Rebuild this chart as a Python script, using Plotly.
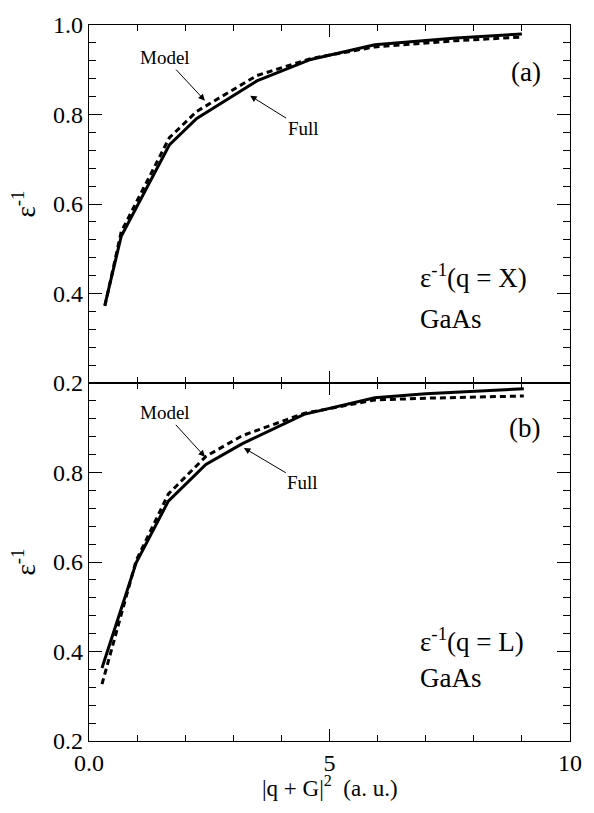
import plotly.graph_objects as go

# Panel (a): q = X
xa = [0.33, 0.67, 1.67, 2.24, 3.49, 4.61, 5.94, 7.63, 9.0]
ya_full = [0.374, 0.528, 0.732, 0.791, 0.875, 0.923, 0.956, 0.971, 0.980]
ya_model = [0.372, 0.538, 0.748, 0.807, 0.887, 0.925, 0.951, 0.965, 0.973]

# Panel (b): q = L
xb = [0.27, 0.98, 1.65, 2.43, 3.18, 4.47, 5.94, 7.0, 9.04]
yb_full = [0.363, 0.598, 0.736, 0.818, 0.864, 0.930, 0.967, 0.976, 0.987]
yb_model = [0.327, 0.603, 0.752, 0.836, 0.882, 0.932, 0.962, 0.966, 0.971]

x_tickvals = [0, 5, 10]
x_ticktext = ["0.0", "5", "10"]
ya_tickvals = [0.2, 0.4, 0.6, 0.8, 1.0]
ya_ticktext = ["0.2", "0.4", "0.6", "0.8", "1.0"]
yb_tickvals = [0.2, 0.4, 0.6, 0.8]
yb_ticktext = ["0.2", "0.4", "0.6", "0.8"]

FONT = "Liberation Serif"
fig = go.Figure()

line_full = dict(color="black", width=3)
line_model = dict(color="black", width=3, dash="6px,4px")

fig.add_trace(go.Scatter(x=xa, y=ya_model, mode="lines", line=line_model, xaxis="x", yaxis="y", showlegend=False))
fig.add_trace(go.Scatter(x=xa, y=ya_full, mode="lines", line=line_full, xaxis="x", yaxis="y", showlegend=False))
fig.add_trace(go.Scatter(x=xb, y=yb_model, mode="lines", line=line_model, xaxis="x2", yaxis="y2", showlegend=False))
fig.add_trace(go.Scatter(x=xb, y=yb_full, mode="lines", line=line_full, xaxis="x2", yaxis="y2", showlegend=False))

tfont = dict(family=FONT, size=24, color="black")

common_x = dict(range=[0, 10], showline=True, linecolor="black", linewidth=1.2, mirror="ticks",
                ticks="inside", ticklen=12, tickwidth=1.2, tickcolor="black",
                tickvals=x_tickvals, ticktext=x_ticktext, showgrid=False, zeroline=False,
                ticklabeloverflow="allow",
                minor=dict(dtick=1, tick0=0, ticks="inside", ticklen=6, tickwidth=1,
                           tickcolor="black", showgrid=False),
                tickfont=tfont)
common_y = dict(range=[0.2, 1.0], showline=True, linecolor="black", linewidth=1.2, mirror="ticks",
                ticks="inside", ticklen=13, tickwidth=1.2, tickcolor="black",
                showgrid=False, zeroline=False, ticklabeloverflow="allow",
                minor=dict(dtick=0.04, tick0=0.2, ticks="inside", ticklen=7, tickwidth=1,
                           tickcolor="black", showgrid=False),
                tickfont=tfont,
                title=dict(text="ε<sup>-1</sup>", font=dict(family=FONT, size=27, color="black"), standoff=9))

fig.update_layout(
    width=594, height=813,
    margin=dict(l=89, r=15, t=13, b=72),
    paper_bgcolor="white", plot_bgcolor="white",
    font=dict(family=FONT, color="black"),
    xaxis=dict(common_x, domain=[0, 1], anchor="y", showticklabels=False),
    yaxis=dict(common_y, domain=[0.5, 1.0], anchor="x", tickvals=ya_tickvals, ticktext=ya_ticktext),
    xaxis2=dict(common_x, domain=[0, 1], anchor="y2"),
    yaxis2=dict(common_y, domain=[0, 0.5], anchor="x2", tickvals=yb_tickvals, ticktext=yb_ticktext),
)

ann_font = dict(family=FONT, size=19, color="black")
big_font = dict(family=FONT, size=27, color="black")
arrow = dict(showarrow=True, arrowhead=2, arrowsize=1.3, arrowwidth=1, arrowcolor="black")

anns = [
    dict(x=2.41, y=0.831, xref="x", yref="y", text="Model", ax=-40, ay=-43, font=ann_font, **arrow),
    dict(x=3.35, y=0.842, xref="x", yref="y", text="Full", ax=53, ay=33, font=ann_font, **arrow),
    dict(x=2.41, y=0.835, xref="x2", yref="y2", text="Model", ax=-40, ay=-44, font=ann_font, **arrow),
    dict(x=3.22, y=0.855, xref="x2", yref="y2", text="Full", ax=59, ay=35, font=ann_font, **arrow),
    dict(x=9.08, y=0.895, xref="x", yref="y", text="(a)", showarrow=False, font=big_font),
    dict(x=9.06, y=0.90, xref="x2", yref="y2", text="(b)", showarrow=False, font=big_font),
    dict(x=6.85, y=0.44, xref="x", yref="y", text="ε<sup>-1</sup>(q = X)", xanchor="left", showarrow=False, font=big_font),
    dict(x=6.85, y=0.343, xref="x", yref="y", text="GaAs", xanchor="left", showarrow=False, font=big_font),
    dict(x=6.85, y=0.426, xref="x2", yref="y2", text="ε<sup>-1</sup>(q = L)", xanchor="left", showarrow=False, font=big_font),
    dict(x=6.85, y=0.34, xref="x2", yref="y2", text="GaAs", xanchor="left", showarrow=False, font=big_font),
    dict(x=0.5, y=-0.064, xref="paper", yref="paper", text="|q + G|<sup>2</sup>  (a. u.)",
         showarrow=False, yanchor="middle", font=dict(family=FONT, size=23, color="black")),
]
fig.update_layout(annotations=anns)

fig.write_html("out.html")
